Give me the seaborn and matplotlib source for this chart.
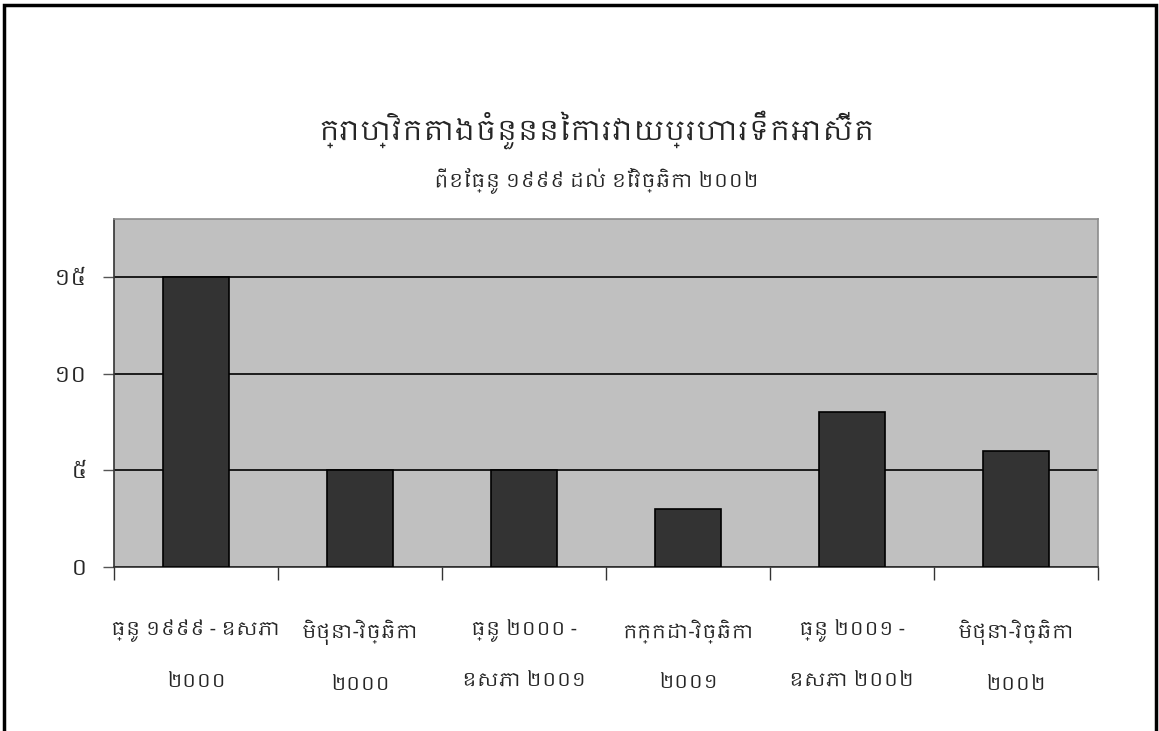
import numpy as np
import seaborn as sns
import matplotlib.pyplot as plt
from matplotlib import font_manager
from matplotlib.patches import Rectangle
from matplotlib.ticker import FixedLocator

# data
periods = [
    "ធ្នូ ១៩៩៩ - ឧសភា\n២០០០",
    "មិថុនា-វិច្ឆិកា\n២០០០",
    "ធ្នូ ២០០០ -\nឧសភា ២០០១",
    "កក្កដា-វិច្ឆិកា\n២០០១",
    "ធ្នូ ២០០១ -\nឧសភា ២០០២",
    "មិថុនា-វិច្ឆិកា\n២០០២",
]
attacks = [15, 5, 5, 3, 8, 6]
y_ticks = [0, 5, 10, 15]
y_ticklabels = ["០", "៥", "១០", "១៥"]

title = "ក្រាហ្វិកតាងចំនួននៃការវាយប្រហារទឹកអាស៊ីត"
subtitle = "ពីខែធ្នូ ១៩៩៩ ដល់ ខែវិច្ឆិកា ២០០២"

sns.set_theme(style="white")

# use a Khmer-capable font if one happens to be installed
khmer = [f.name for f in font_manager.fontManager.ttflist if "khmer" in f.name.lower()]
families = sorted(set(khmer)) + ["DejaVu Sans"]
plt.rcParams["font.family"] = families

fig = plt.figure(figsize=(11.59, 7.31), dpi=100)
ax = fig.add_axes([0.0984, 0.2248, 0.849, 0.4756])

ax = sns.barplot(
    ax=ax,
    x=list(range(len(periods))),
    y=attacks,
    color="#333333",
    saturation=1,
    edgecolor="black",
    linewidth=1.2,
    width=0.4,
    native_scale=True,
    zorder=3,
)

ax.set_facecolor("#C0C0C0")
ax.set_xlim(-0.5, len(periods) - 0.5)
ax.set_ylim(0, 18)

# y axis
ax.set_yticks(y_ticks)
ax.set_yticklabels(y_ticklabels, fontsize=16)
ax.yaxis.grid(True, color="black", linewidth=1.2, zorder=1)
ax.set_axisbelow(True)
ax.tick_params(axis="y", which="major", direction="out", length=8, width=1,
               color="#555555", pad=11, left=True)

# x axis: labels centred, ticks on category boundaries
ax.set_xticks(range(len(periods)))
ax.set_xticklabels(periods, fontsize=14, linespacing=3.2)
ax.tick_params(axis="x", which="major", length=0, pad=38)
ax.xaxis.set_minor_locator(FixedLocator(np.arange(-0.5, len(periods), 1.0)))
ax.tick_params(axis="x", which="minor", direction="out", length=9, width=1,
               color="#333333", bottom=True)

for side in ["top", "right"]:
    ax.spines[side].set_color("#8C8C8C")
    ax.spines[side].set_linewidth(1.2)
ax.spines["left"].set_color("#333333")
ax.spines["bottom"].set_color("#333333")
ax.spines["left"].set_linewidth(1.2)
ax.spines["bottom"].set_linewidth(1.2)
ax.set_xlabel("")
ax.set_ylabel("")

# titles
fig.text(0.515, 1 - 130 / 731, title, ha="center", va="center",
         fontsize=20, fontweight="bold")
fig.text(0.515, 1 - 181 / 731, subtitle, ha="center", va="center",
         fontsize=14, fontweight="bold")

# outer frame
fig.patches.append(Rectangle((4 / 1159, -0.02), 1152 / 1159, 1.02 - 5 / 731,
                             transform=fig.transFigure, fill=False,
                             edgecolor="black", linewidth=2.5))

fig.savefig("out.png", dpi=100)
